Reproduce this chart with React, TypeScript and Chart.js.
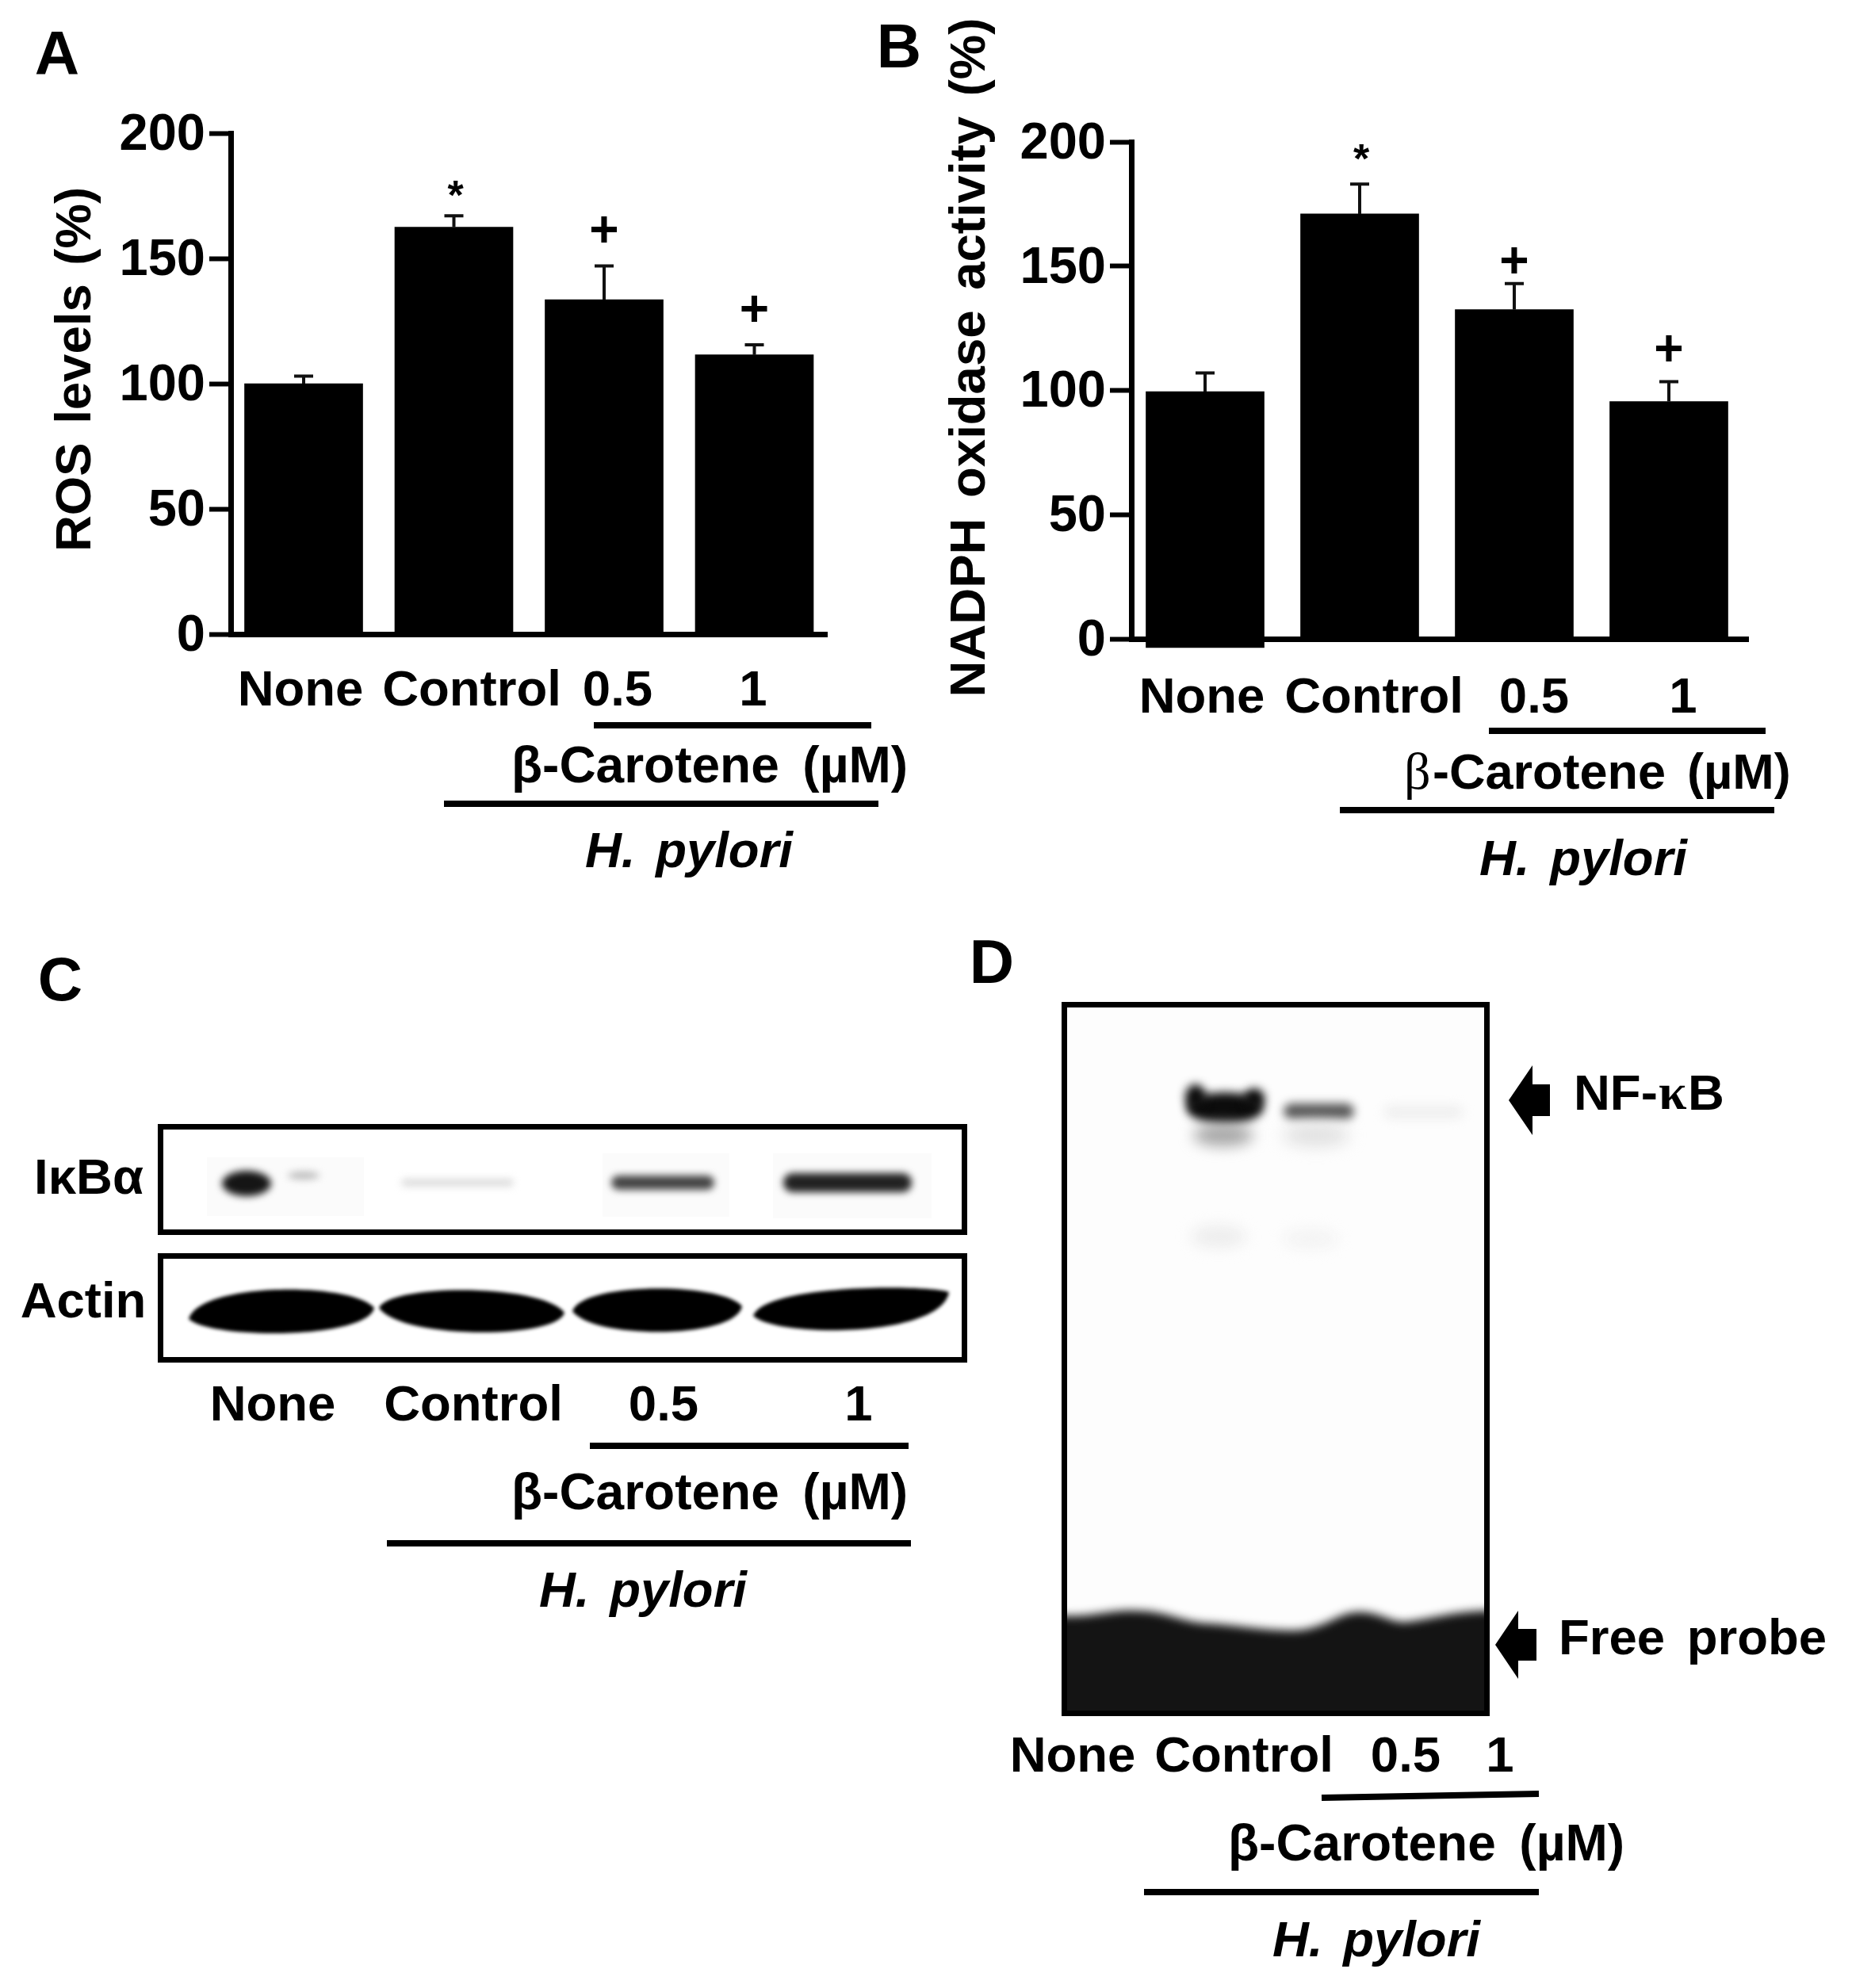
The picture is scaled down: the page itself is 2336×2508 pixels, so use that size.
import React, { useEffect, useRef } from "react";
import { Chart, registerables } from "chart.js";

Chart.register(...registerables);

const W = 2336;
const H = 2508;
const SANS = '"Liberation Sans", Arial, sans-serif';
const SERIF = '"Liberation Serif", serif';

// ---- data ----
const categories = ["None", "Control", "0.5", "1"];
const yTicks = [0, 50, 100, 150, 200];

const rosValues = [100, 162.5, 133.5, 111.5];
const rosErrorTops = [103, 167, 147, 115.5];
const rosMarks = ["", "*", "+", "+"];
const rosMarkLevels = [0, 177, 161.5, 130];

const nadphValues = [99.5, 171, 132.5, 95.5];
const nadphBases = [-3.5, 0, 0, 0];
const nadphErrorTops = [107, 183, 143, 103.5];
const nadphMarks = ["", "*", "+", "+"];
const nadphMarkLevels = [0, 195, 152.5, 117];

// ---- text helpers ----
type TextOpts = { size?: number; italic?: boolean; family?: string; ws?: number; weight?: string; align?: CanvasTextAlign };

function put(ctx: CanvasRenderingContext2D, s: string, x: number, y: number, o: TextOpts = {}) {
  const { size = 63.5, italic = false, family = SANS, ws = 0, weight = "bold", align = "center" } = o;
  ctx.save();
  ctx.font = `${italic ? "italic " : ""}${weight} ${size}px ${family}`;
  ctx.textAlign = align;
  ctx.textBaseline = "middle";
  (ctx as any).wordSpacing = `${ws}px`;
  ctx.fillStyle = "#000";
  ctx.fillText(s, x, y + 6);
  ctx.restore();
}

function bar(ctx: CanvasRenderingContext2D, x0: number, y0: number, x1: number, y1: number, w = 8) {
  ctx.save();
  ctx.strokeStyle = "#000";
  ctx.lineWidth = w;
  ctx.beginPath();
  ctx.moveTo(x0, y0);
  ctx.lineTo(x1, y1);
  ctx.stroke();
  ctx.restore();
}

type Block = {
  letter: [string, number, number];
  labelY: number;
  labelX: number[];
  line1: [number, number, number, number];
  betaX: number;
  betaY: number;
  betaSerif?: boolean;
  line2: [number, number, number, number];
  hpX: number;
  hpY: number;
};

function drawBlock(ctx: CanvasRenderingContext2D, b: Block) {
  put(ctx, b.letter[0], b.letter[1], b.letter[2], { size: 78 });
  categories.forEach((c, i) => put(ctx, c, b.labelX[i], b.labelY));
  bar(ctx, b.line1[0], b.line1[1], b.line1[2], b.line1[3]);
  if (b.betaSerif) {
    put(ctx, "β", b.betaX, b.betaY, { family: SERIF, weight: "normal", size: 66, align: "left" });
    put(ctx, "-Carotene  (µM)", b.betaX + 36, b.betaY, { align: "left", size: 63, ws: -4 });
  } else {
    put(ctx, "β-Carotene  (µM)", b.betaX, b.betaY, { align: "left", size: 64, ws: -3 });
  }
  bar(ctx, b.line2[0], b.line2[1], b.line2[2], b.line2[3]);
  put(ctx, "H. pylori", b.hpX, b.hpY, { italic: true, ws: 8 });
}

const blockA: Block = {
  letter: ["A", 72, 66],
  labelY: 866,
  labelX: [379, 595, 779, 950],
  line1: [749, 915, 1099, 915],
  betaX: 645,
  betaY: 963,
  line2: [560, 1014, 1108, 1014],
  hpX: 869,
  hpY: 1070,
};
const blockB: Block = {
  letter: ["B", 1134, 57],
  labelY: 875,
  labelX: [1516, 1733, 1935, 2123],
  line1: [1878, 922, 2227, 922],
  betaX: 1771,
  betaY: 972,
  betaSerif: true,
  line2: [1690, 1022, 2238, 1022],
  hpX: 1997,
  hpY: 1080,
};
const blockC: Block = {
  letter: ["C", 76, 1234],
  labelY: 1768,
  labelX: [344, 597, 837, 1083],
  line1: [744, 1824, 1146, 1824],
  betaX: 645,
  betaY: 1880,
  line2: [488, 1947, 1149, 1947],
  hpX: 811,
  hpY: 2003,
};
const blockD: Block = {
  letter: ["D", 1251, 1212],
  labelY: 2211,
  labelX: [1353, 1569, 1773, 1892],
  line1: [1667, 2268, 1941, 2263],
  betaX: 1549,
  betaY: 2323,
  line2: [1443, 2387, 1941, 2387],
  hpX: 1736,
  hpY: 2444,
};

// ---- chart panels ----
type PanelCfg = {
  values: number[];
  bases: number[];
  errorTops: number[];
  marks: string[];
  markLevels: number[];
  axisX: number;
  axisEnd: number;
  top: number;
  bottom: number;
  firstCenter: number;
  spacing: number;
  barWidth: number;
  yTitle: string;
  yTitleX: number;
  yTitleY: number;
  yTitleWs: number;
  block: Block;
};

function makePanel(canvas: HTMLCanvasElement, p: PanelCfg) {
  const overlay = {
    id: "overlay",
    afterDatasetsDraw(chart: any) {
      const ctx: CanvasRenderingContext2D = chart.ctx;
      const x = chart.scales.x;
      const y = chart.scales.y;
      p.values.forEach((v, i) => {
        const px = x.getPixelForValue(i);
        ctx.save();
        ctx.strokeStyle = "#111";
        ctx.lineWidth = 4;
        ctx.beginPath();
        ctx.moveTo(px, y.getPixelForValue(v));
        ctx.lineTo(px, y.getPixelForValue(p.errorTops[i]));
        ctx.moveTo(px - 12, y.getPixelForValue(p.errorTops[i]));
        ctx.lineTo(px + 12, y.getPixelForValue(p.errorTops[i]));
        ctx.stroke();
        ctx.restore();
        if (p.marks[i] === "*") {
          put(ctx, "*", px + 2, y.getPixelForValue(p.markLevels[i]) + 3, { size: 52 });
        } else if (p.marks[i]) {
          put(ctx, p.marks[i], px, y.getPixelForValue(p.markLevels[i]) - 2, { size: 64 });
        }
      });
      ctx.save();
      ctx.translate(p.yTitleX, p.yTitleY);
      ctx.rotate(-Math.PI / 2);
      put(ctx, p.yTitle, 0, -6, { ws: p.yTitleWs });
      ctx.restore();
      drawBlock(ctx, p.block);
    },
  };

  return new Chart(canvas, {
    type: "bar",
    data: {
      datasets: [
        {
          data: p.values.map((v, i) => ({ x: i, y: [p.bases[i], v] })) as any,
          backgroundColor: "#000",
          borderWidth: 0,
          barThickness: p.barWidth,
          clip: false as any,
        },
      ],
    },
    options: {
      responsive: false,
      animation: false,
      maintainAspectRatio: false,
      layout: { padding: { top: p.top, bottom: H - p.bottom, right: W - p.axisEnd, left: 0 } },
      plugins: { legend: { display: false }, tooltip: { enabled: false } },
      scales: {
        x: {
          type: "linear",
          offset: false,
          bounds: "data",
          min: (p.axisX - p.firstCenter) / p.spacing,
          max: (p.axisEnd - p.firstCenter) / p.spacing,
          grid: { display: false },
          border: { display: true, color: "#000", width: 7 },
          ticks: { display: false },
          afterFit: (s: any) => {
            s.height = 0;
          },
        },
        y: {
          type: "linear",
          min: 0,
          max: 200,
          afterBuildTicks: (s: any) => {
            s.ticks = yTicks.map((value) => ({ value }));
          },
          grid: { drawOnChartArea: false, drawTicks: true, tickLength: 27, tickWidth: 6, tickColor: "#000" },
          border: { display: true, color: "#000", width: 7 },
          ticks: { color: "#000", padding: 5, labelOffset: 3, font: { family: SANS, weight: "bold", size: 65 } },
          afterFit: (s: any) => {
            s.width = p.axisX;
          },
        },
      },
    } as any,
    plugins: [overlay],
  });
}

// ---- blot panels ----
function blob(ctx: CanvasRenderingContext2D, cx: number, cy: number, rx: number, ry: number, color: string, blur: number) {
  ctx.save();
  ctx.filter = `blur(${blur}px)`;
  ctx.fillStyle = color;
  ctx.beginPath();
  ctx.ellipse(cx, cy, rx, ry, 0, 0, Math.PI * 2);
  ctx.fill();
  ctx.restore();
}

function band(ctx: CanvasRenderingContext2D, x0: number, x1: number, cy: number, ry: number, color: string, blur: number) {
  ctx.save();
  ctx.filter = `blur(${blur}px)`;
  ctx.fillStyle = color;
  ctx.beginPath();
  (ctx as any).roundRect(x0, cy - ry, x1 - x0, ry * 2, ry);
  ctx.fill();
  ctx.restore();
}

function lens(ctx: CanvasRenderingContext2D, x0: number, x1: number, yL: number, yR: number, top: number, bot: number) {
  const w = x1 - x0;
  ctx.save();
  ctx.filter = "blur(2px)";
  ctx.fillStyle = "#000";
  ctx.beginPath();
  ctx.moveTo(x0, yL);
  ctx.bezierCurveTo(x0 + w * 0.06, top, x1 - w * 0.12, top, x1, yR);
  ctx.bezierCurveTo(x1 - w * 0.04, bot, x0 + w * 0.12, bot, x0, yL);
  ctx.fill();
  ctx.restore();
}

function box(ctx: CanvasRenderingContext2D, x0: number, y0: number, x1: number, y1: number, w = 7) {
  ctx.save();
  ctx.strokeStyle = "#000";
  ctx.lineWidth = w;
  ctx.strokeRect(x0 + w / 2, y0 + w / 2, x1 - x0 - w, y1 - y0 - w);
  ctx.restore();
}

function arrow(ctx: CanvasRenderingContext2D, tip: number, back: number, end: number, cy: number, head: number, shaft: number) {
  ctx.save();
  ctx.fillStyle = "#000";
  ctx.beginPath();
  ctx.moveTo(tip, cy);
  ctx.lineTo(back, cy - head);
  ctx.lineTo(back, cy - shaft);
  ctx.lineTo(end, cy - shaft);
  ctx.lineTo(end, cy + shaft);
  ctx.lineTo(back, cy + shaft);
  ctx.lineTo(back, cy + head);
  ctx.closePath();
  ctx.fill();
  ctx.restore();
}

function drawBlots(ctx: CanvasRenderingContext2D) {
  // Panel C
  ctx.fillStyle = "#fbfbfb";
  ctx.fillRect(261, 1460, 198, 74);
  ctx.fillRect(760, 1455, 160, 80);
  ctx.fillRect(975, 1455, 200, 82);
  blob(ctx, 311, 1493, 31, 16, "#151515", 5);
  blob(ctx, 383, 1483, 20, 5, "#bbb", 5);
  band(ctx, 506, 648, 1492, 5, "#ddd", 5);
  band(ctx, 771, 901, 1492, 9, "#444", 5);
  band(ctx, 988, 1150, 1492, 12, "#222", 5);
  box(ctx, 199, 1418, 1220, 1558);
  lens(ctx, 238, 472, 1664, 1650, 1617, 1690);
  lens(ctx, 478, 712, 1650, 1656, 1619, 1690);
  lens(ctx, 722, 936, 1654, 1648, 1617, 1690);
  lens(ctx, 950, 1197, 1660, 1630, 1620, 1688);
  box(ctx, 199, 1581, 1220, 1719);
  put(ctx, "IκBα", 112, 1482);
  put(ctx, "Actin", 105, 1638);
  drawBlock(ctx, blockC);

  // Panel D
  ctx.save();
  ctx.beginPath();
  ctx.rect(1339, 1264, 540, 900);
  ctx.clip();
  ctx.fillStyle = "#fdfdfd";
  ctx.fillRect(1339, 1264, 540, 900);
  blob(ctx, 1545, 1398, 48, 20, "#0c0c0c", 6);
  blob(ctx, 1508, 1384, 13, 16, "#0c0c0c", 6);
  blob(ctx, 1582, 1386, 13, 13, "#0c0c0c", 6);
  blob(ctx, 1543, 1432, 38, 14, "#a6a6a6", 9);
  band(ctx, 1619, 1708, 1402, 10, "#5a5a5a", 6);
  blob(ctx, 1660, 1432, 42, 14, "#e0e0e0", 10);
  band(ctx, 1746, 1845, 1403, 8, "#eeeeee", 7);
  blob(ctx, 1537, 1560, 35, 14, "#ededed", 9);
  blob(ctx, 1653, 1563, 35, 12, "#f3f3f3", 9);
  ctx.filter = "blur(6px)";
  ctx.fillStyle = "#141414";
  ctx.beginPath();
  ctx.moveTo(1320, 2036);
  ctx.bezierCurveTo(1370, 2044, 1400, 2030, 1432, 2032);
  ctx.bezierCurveTo(1470, 2032, 1490, 2046, 1521, 2048);
  ctx.bezierCurveTo(1560, 2050, 1610, 2060, 1644, 2056);
  ctx.bezierCurveTo(1680, 2050, 1690, 2032, 1720, 2034);
  ctx.bezierCurveTo(1745, 2036, 1755, 2048, 1775, 2046);
  ctx.bezierCurveTo(1810, 2042, 1840, 2030, 1900, 2032);
  ctx.lineTo(1900, 2200);
  ctx.lineTo(1320, 2200);
  ctx.closePath();
  ctx.fill();
  ctx.restore();
  box(ctx, 1339, 1264, 1879, 2165);

  arrow(ctx, 1903, 1933, 1955, 1388, 44, 20);
  arrow(ctx, 1886, 1915, 1938, 2075, 43, 20);
  put(ctx, "NF-", 1985, 1376, { align: "left" });
  put(ctx, "κ", 2092, 1376, { family: SERIF, size: 64, align: "left" });
  put(ctx, "B", 2129, 1376, { align: "left" });
  put(ctx, "Free probe", 1966, 2063, { align: "left", ws: 10 });
  drawBlock(ctx, blockD);
}

export default function App() {
  const refA = useRef<HTMLCanvasElement>(null);
  const refB = useRef<HTMLCanvasElement>(null);
  const refBack = useRef<HTMLCanvasElement>(null);

  useEffect(() => {
    const back = refBack.current!.getContext("2d")!;
    back.clearRect(0, 0, W, H);
    drawBlots(back);
    const a = makePanel(refA.current!, {
      values: rosValues,
      bases: [0, 0, 0, 0],
      errorTops: rosErrorTops,
      marks: rosMarks,
      markLevels: rosMarkLevels,
      axisX: 291,
      axisEnd: 1043,
      top: 168,
      bottom: 800,
      firstCenter: 383,
      spacing: 189.5,
      barWidth: 149,
      yTitle: "ROS levels (%)",
      yTitleX: 96,
      yTitleY: 466,
      yTitleWs: 6,
      block: blockA,
    });
    const b = makePanel(refB.current!, {
      values: nadphValues,
      bases: nadphBases,
      errorTops: nadphErrorTops,
      marks: nadphMarks,
      markLevels: nadphMarkLevels,
      axisX: 1427,
      axisEnd: 2205,
      top: 179,
      bottom: 806,
      firstCenter: 1520,
      spacing: 195,
      barWidth: 149,
      yTitle: "NADPH oxidase activity (%)",
      yTitleX: 1224,
      yTitleY: 451,
      yTitleWs: 8,
      block: blockB,
    });
    return () => {
      a.destroy();
      b.destroy();
    };
  }, []);

  const style: React.CSSProperties = { position: "absolute", left: 0, top: 0, width: W, height: H, display: "block" };
  return (
    <div style={{ position: "absolute", left: 0, top: 0, width: W, height: H, background: "#fff", overflow: "hidden" }}>
      <canvas ref={refBack} width={W} height={H} style={style} />
      <canvas ref={refA} width={W} height={H} style={style} />
      <canvas ref={refB} width={W} height={H} style={style} />
    </div>
  );
}
